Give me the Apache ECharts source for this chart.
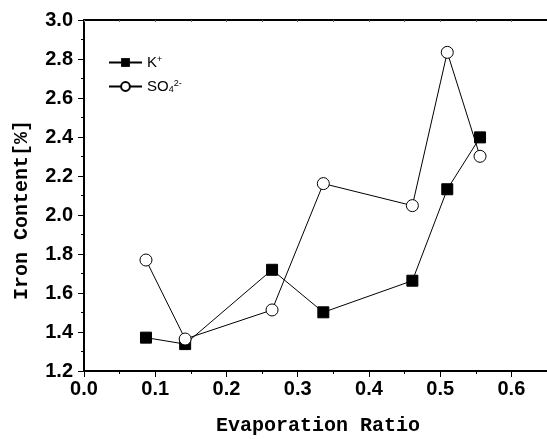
<!DOCTYPE html>
<html>
<head>
<meta charset="utf-8">
<script src="https://cdn.jsdelivr.net/npm/echarts@6/dist/echarts.min.js"></script>
<style>html,body{margin:0;padding:0;background:#fff}#c{width:547px;height:439px}</style>
</head>
<body>
<div id="c"></div>
<script>
const evaporationRatio = [0.087, 0.142, 0.264, 0.336, 0.461, 0.510, 0.556];
const kValues = [1.371, 1.338, 1.719, 1.501, 1.663, 2.132, 2.398];
const so4Values = [1.769, 1.364, 1.513, 2.161, 2.048, 2.834, 2.301];
const xTitle = 'Evaporation Ratio';
const yTitle = 'Iron Content[%]';

const pairs = (xs, ys) => xs.map((x, i) => [x, ys[i]]);
const tickFont = { fontFamily: 'Liberation Sans', fontWeight: 'bold', fontSize: 20, color: '#000' };
const chart = echarts.init(document.getElementById('c'), null, { renderer: 'canvas' });
chart.setOption({
  animation: false,
  backgroundColor: '#fff',
  grid: { left: 84, top: 20, bottom: 68, right: -9, containLabel: false },
  legend: {
    orient: 'vertical', left: 108, top: 55, padding: 0,
    itemWidth: 33, itemHeight: 11, itemGap: 9,
    textStyle: {
      fontFamily: 'Liberation Sans', fontSize: 15, color: '#000',
      rich: {
        n: { fontFamily: 'Liberation Sans', fontSize: 15, color: '#000' },
        sup: { fontFamily: 'Liberation Sans', fontSize: 9, verticalAlign: 'top', color: '#000' },
        sub: { fontFamily: 'Liberation Sans', fontSize: 9, verticalAlign: 'bottom', color: '#000' }
      }
    },
    formatter: function (name) {
      return name === 'K' ? '{n|K}{sup|+}' : '{n|SO}{sub|4}{sup|2-}';
    },
    data: ['K', 'SO4']
  },
  xAxis: [
    { type: 'value', position: 'bottom', min: 0, max: 0.65, interval: 0.1,
      axisLine: { show: true, lineStyle: { color: '#000', width: 2 } },
      axisTick: { show: true, length: 6, lineStyle: { color: '#000', width: 1 } },
      axisLabel: Object.assign({ margin: 8, showMaxLabel: false, formatter: v => v.toFixed(1) }, tickFont),
      splitLine: { show: false } },
    { type: 'value', position: 'bottom', min: 0, max: 0.65, interval: 0.05,
      axisLine: { show: false },
      axisTick: { show: true, length: 3, lineStyle: { color: '#000', width: 1 } },
      axisLabel: { show: false }, splitLine: { show: false } },
    { type: 'value', position: 'top', min: 0, max: 0.65, interval: 0.05,
      axisLine: { show: true, lineStyle: { color: '#000', width: 2 } },
      axisTick: { show: true, inside: true, length: 2, lineStyle: { color: '#666', width: 1 } },
      axisLabel: { show: false }, splitLine: { show: false } }
  ],
  yAxis: [
    { type: 'value', position: 'left', min: 1.2, max: 3.0, interval: 0.2,
      axisLine: { show: true, lineStyle: { color: '#000', width: 2 } },
      axisTick: { show: true, length: 6, lineStyle: { color: '#000', width: 1 } },
      axisLabel: Object.assign({ margin: 11, formatter: v => v.toFixed(1) }, tickFont),
      splitLine: { show: false } },
    { type: 'value', position: 'left', min: 1.2, max: 3.0, interval: 0.1,
      axisLine: { show: false },
      axisTick: { show: true, length: 3, lineStyle: { color: '#000', width: 1 } },
      axisLabel: { show: false }, splitLine: { show: false } }
  ],
  graphic: [
    { type: 'text', x: 318, y: 426, style: { text: xTitle, font: 'bold 20px "Liberation Mono"', fill: '#000', align: 'center', verticalAlign: 'middle' } },
    { type: 'text', x: 22, y: 210, rotation: Math.PI / 2, style: { text: yTitle, font: 'bold 20px "Liberation Mono"', fill: '#000', align: 'center', verticalAlign: 'middle' } }
  ],
  series: [
    { name: 'K', type: 'line', data: pairs(evaporationRatio, kValues),
      symbol: 'rect', symbolSize: 11,
      itemStyle: { color: '#000', borderColor: '#000' },
      lineStyle: { color: '#000', width: 1 } },
    { name: 'SO4', type: 'line', data: pairs(evaporationRatio, so4Values),
      symbol: 'circle', symbolSize: 12, showAllSymbol: true,
      itemStyle: { color: '#fff', borderColor: '#000', borderWidth: 1 },
      lineStyle: { color: '#000', width: 1 } }
  ]
});
</script>
</body>
</html>
